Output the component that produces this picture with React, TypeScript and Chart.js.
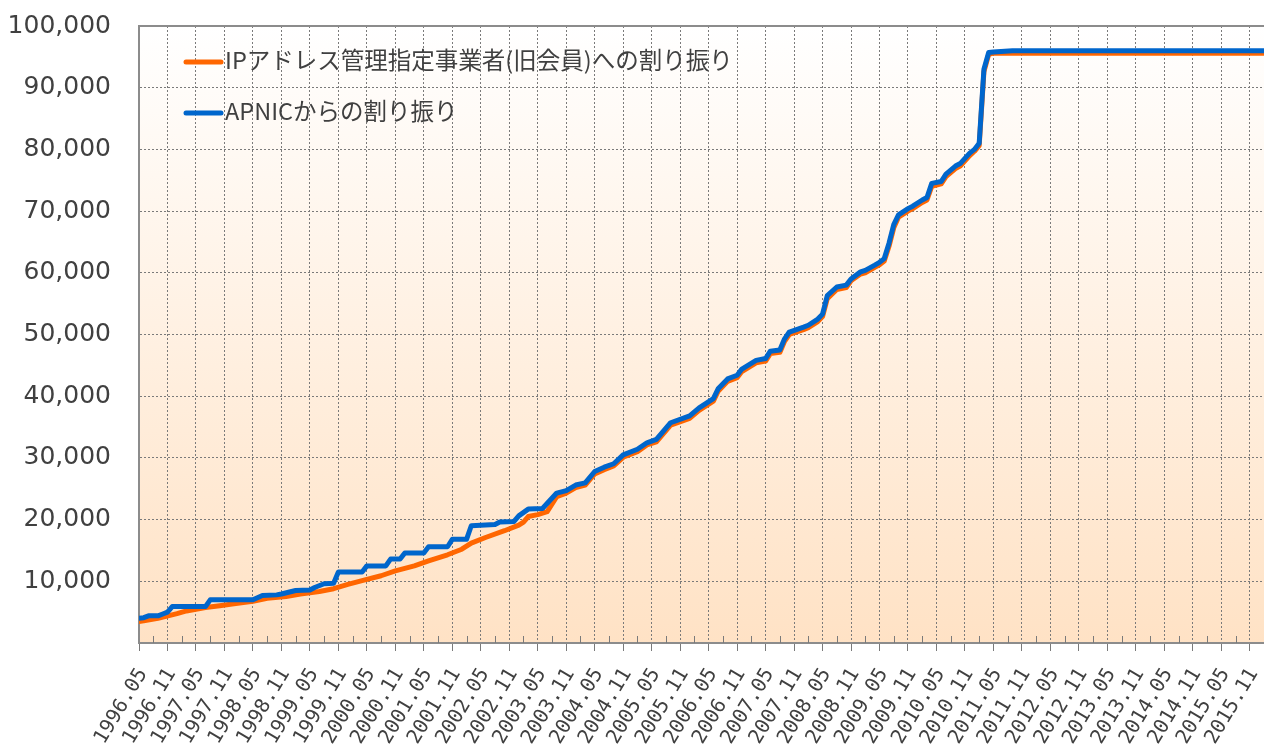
import React, { useEffect, useRef } from 'react';
import { Chart, registerables } from 'chart.js';

Chart.register(...registerables);

// x values are months counted from 1996.05 (= 0)
const tickLabels = [
  '1996.05', '1996.11', '1997.05', '1997.11', '1998.05', '1998.11', '1999.05', '1999.11',
  '2000.05', '2000.11', '2001.05', '2001.11', '2002.05', '2002.11', '2003.05', '2003.11',
  '2004.05', '2004.11', '2005.05', '2005.11', '2006.05', '2006.11', '2007.05', '2007.11',
  '2008.05', '2008.11', '2009.05', '2009.11', '2010.05', '2010.11', '2011.05', '2011.11',
  '2012.05', '2012.11', '2013.05', '2013.11', '2014.05', '2014.11', '2015.05', '2015.11',
];
const monthsPerLabel = 6;
const lastMonth = 237;

const seriesNames = ['IPアドレス管理指定事業者(旧会員)への割り振り', 'APNICからの割り振り'];
const seriesColors = ['#ff6600', '#0066cc'];

const memberMonths = [
  0, 1, 4, 8, 10, 14, 17, 20, 24, 27, 31, 34, 38, 41, 44, 47, 51, 54, 58, 61, 65, 68, 70, 73,
  77, 80, 81, 82, 84, 86, 88, 90, 92, 94, 96, 98, 100, 102, 105, 107, 109, 112, 116, 118, 121,
  122, 124, 126, 127, 130, 132, 133, 135, 136, 137, 140, 141, 143, 144, 145, 147, 149, 150, 152,
  153, 155, 156, 157, 158, 159, 160, 162, 163, 165, 166, 167, 169, 170, 172, 173, 175, 176, 177,
  178, 179, 180, 237,
];
const memberValues = [
  3500, 3600, 4000, 4750, 5200, 5750, 6050, 6350, 6750, 7250, 7550, 7950, 8350, 8800, 9500,
  10100, 10900, 11700, 12500, 13300, 14300, 15200, 16200, 17100, 18200, 19100, 19600, 20500,
  20800, 21300, 23700, 24300, 25200, 25600, 27400, 28100, 28700, 30100, 31000, 32100, 32600,
  35300, 36400, 37700, 39200, 40800, 42400, 43000, 44000, 45400, 45700, 46900, 47100, 48900,
  50000, 50800, 51100, 52100, 52900, 55800, 57300, 57600, 58700, 59800, 60000, 60900, 61300,
  61900, 64300, 67300, 69000, 70000, 70400, 71400, 71800, 74000, 74400, 75600, 76900, 77300,
  79000, 79700, 80600, 92600, 95400, 95600, 95600,
];

const apnicMonths = [
  0, 1, 2, 4, 5, 6, 7, 14, 15, 24, 26, 29, 30, 33, 36, 37, 39, 41, 42, 47, 48, 52, 53, 55, 56,
  60, 61, 65, 66, 69, 70, 75, 76, 79, 80, 82, 85, 88, 90, 92, 94, 96, 98, 100, 102, 105, 107,
  109, 112, 116, 118, 121, 122, 124, 126, 127, 130, 132, 133, 135, 136, 137, 140, 141, 143, 144,
  145, 147, 149, 150, 152, 153, 155, 156, 157, 158, 159, 160, 162, 163, 165, 166, 167, 169, 170,
  172, 173, 175, 176, 177, 178, 179, 180, 184, 237,
];
const apnicValues = [
  4000, 4100, 4400, 4400, 4700, 5000, 5900, 5900, 7000, 7000, 7700, 7800, 7950, 8500, 8600,
  9000, 9600, 9700, 11500, 11500, 12500, 12500, 13600, 13600, 14600, 14600, 15600, 15600, 16800,
  16800, 19000, 19200, 19600, 19700, 20600, 21700, 21800, 24300, 24700, 25600, 25950, 27800,
  28500, 29050, 30500, 31400, 32450, 33000, 35700, 36800, 38100, 39600, 41200, 42800, 43400,
  44400, 45800, 46100, 47300, 47500, 49300, 50400, 51200, 51500, 52500, 53300, 56300, 57700,
  58000, 59000, 60150, 60400, 61250, 61700, 62300, 64800, 67800, 69400, 70400, 70800, 71800,
  72200, 74500, 74800, 76000, 77300, 77700, 79400, 80000, 81000, 93000, 95700, 95800, 96000,
  96000,
];

const yMax = 100000;
const yStep = 10000;

const textColor = '#404040';
const gridColor = '#7a7a7a';

const decorPlugin = {
  id: 'decor',
  beforeDraw(chart: any) {
    const { ctx, chartArea: a } = chart;
    const g = ctx.createLinearGradient(0, a.top, 0, a.bottom);
    g.addColorStop(0, '#ffffff');
    g.addColorStop(1, '#ffe2c5');
    ctx.save();
    ctx.fillStyle = g;
    ctx.fillRect(a.left, a.top, a.right - a.left, a.bottom - a.top);
    ctx.restore();
  },
  afterDraw(chart: any) {
    const { ctx, chartArea: a } = chart;
    const xs = chart.scales.x;
    ctx.save();
    // top border
    ctx.strokeStyle = '#8c8c8c';
    ctx.lineWidth = 2;
    ctx.beginPath();
    ctx.moveTo(a.left, a.top);
    ctx.lineTo(a.right, a.top);
    ctx.stroke();
    // minor ticks
    ctx.lineWidth = 1;
    ctx.strokeStyle = gridColor;
    for (let m = monthsPerLabel / 2; m < lastMonth; m += monthsPerLabel) {
      const px = Math.round(xs.getPixelForValue(m)) + 0.5;
      ctx.beginPath();
      ctx.moveTo(px, a.bottom);
      ctx.lineTo(px, a.bottom - 7);
      ctx.stroke();
    }
    // legend
    const rows = [a.top + 36, a.top + 87];
    chart.data.datasets.forEach((ds: any, i: number) => {
      const y = rows[i];
      ctx.strokeStyle = ds.borderColor;
      ctx.lineWidth = 5;
      ctx.lineCap = 'round';
      ctx.beginPath();
      ctx.moveTo(a.left + 47, y);
      ctx.lineTo(a.left + 82, y);
      ctx.stroke();
      ctx.fillStyle = textColor;
      ctx.font = '23.5px "Noto Sans CJK JP"';
      ctx.textBaseline = 'middle';
      ctx.textAlign = 'left';
      ctx.fillText(ds.label, a.left + 86, y - 2);
    });
    ctx.restore();
  },
};

export default function App() {
  const ref = useRef<HTMLCanvasElement>(null);
  useEffect(() => {
    if (!ref.current) return;
    const chart = new Chart(ref.current, {
      type: 'line',
      data: {
        datasets: [
          {
            label: seriesNames[0],
            data: memberMonths.map((m, i) => ({ x: m, y: memberValues[i] })),
            borderColor: seriesColors[0],
            backgroundColor: seriesColors[0],
            borderWidth: 5,
            pointRadius: 0,
            tension: 0,
            borderJoinStyle: 'round',
            borderCapStyle: 'round',
            order: 1,
          },
          {
            label: seriesNames[1],
            data: apnicMonths.map((m, i) => ({ x: m, y: apnicValues[i] })),
            borderColor: seriesColors[1],
            backgroundColor: seriesColors[1],
            borderWidth: 5,
            pointRadius: 0,
            tension: 0,
            borderJoinStyle: 'round',
            borderCapStyle: 'round',
            order: 0,
          },
        ],
      },
      options: {
        animation: false,
        responsive: false,
        devicePixelRatio: 1,
        layout: { padding: { top: 26, right: 0, bottom: 0, left: 0 } },
        plugins: { legend: { display: false }, tooltip: { enabled: false } },
        scales: {
          x: {
            type: 'linear',
            min: 0,
            max: lastMonth,
            afterBuildTicks: (s: any) => {
              s.ticks = tickLabels.map((_, i) => ({ value: i * monthsPerLabel }));
            },
            afterFit: (s: any) => {
              s.height = 103;
              s.paddingLeft = 0;
              s.paddingRight = 0;
              s.paddingTop = 0;
              s.paddingBottom = 0;
            },
            ticks: {
              autoSkip: false,
              minRotation: 59,
              maxRotation: 59,
              padding: 13,
              labelOffset: 4,
              color: textColor,
              font: { family: '"DejaVu Sans Mono"', size: 20 },
              callback: (_v: any, i: number) => tickLabels[i],
            },
            grid: {
              color: gridColor,
              lineWidth: 1,
              drawTicks: true,
              tickLength: 8,
              tickColor: gridColor,
            },
            border: { display: true, color: '#8c8c8c', width: 2, dash: [2, 2] },
          },
          y: {
            min: 0,
            max: yMax,
            afterFit: (s: any) => {
              s.width = 139;
              s.paddingTop = 0;
              s.paddingBottom = 0;
            },
            ticks: {
              stepSize: yStep,
              padding: 28,
              color: textColor,
              font: { family: '"DejaVu Sans"', size: 25 },
              callback: (v: any) => (v === 0 ? '' : Number(v).toLocaleString('en-US')),
            },
            grid: { color: gridColor, lineWidth: 1, drawTicks: false },
            border: { display: true, color: '#8c8c8c', width: 2, dash: [2, 2] },
          },
        },
      },
      plugins: [decorPlugin],
    });
    return () => chart.destroy();
  }, []);
  return (
    <div style={{ position: 'fixed', left: 0, top: 0, width: 1264, height: 746, background: '#fff' }}>
      <canvas ref={ref} width={1264} height={746} />
    </div>
  );
}
